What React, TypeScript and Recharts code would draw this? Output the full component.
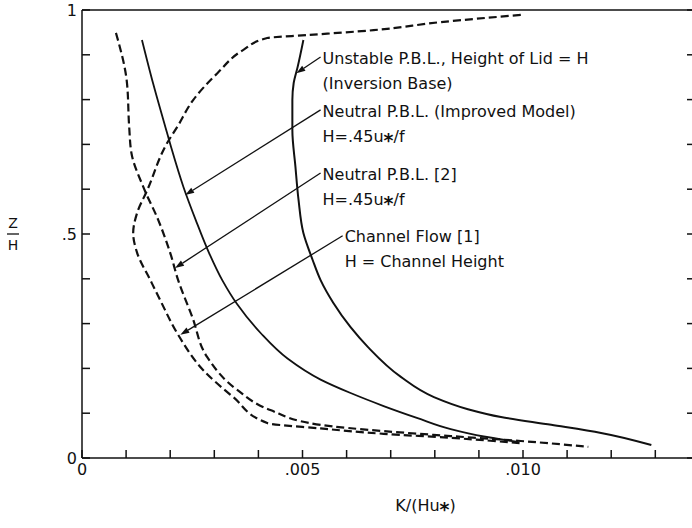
import React from 'react';
import { LineChart, Line, XAxis, YAxis, ReferenceLine } from 'recharts';

// K/(H u*) against z/H
const channelFlow = [
  { k: 0.00995, z: 0.989 }, { k: 0.00814, z: 0.973 }, { k: 0.00661, z: 0.955 },
  { k: 0.00511, z: 0.944 }, { k: 0.0042, z: 0.9375 }, { k: 0.00366, z: 0.911 },
  { k: 0.00307, z: 0.859 }, { k: 0.00252, z: 0.799 }, { k: 0.00216, z: 0.739 },
  { k: 0.00193, z: 0.703 }, { k: 0.00148, z: 0.598 }, { k: 0.00125, z: 0.547 },
  { k: 0.00116, z: 0.502 }, { k: 0.00125, z: 0.458 }, { k: 0.00155, z: 0.397 },
  { k: 0.00177, z: 0.353 }, { k: 0.00218, z: 0.275 }, { k: 0.00275, z: 0.196 },
  { k: 0.00343, z: 0.136 }, { k: 0.0042, z: 0.078 }, { k: 0.00541, z: 0.066 },
  { k: 0.00684, z: 0.054 }, { k: 0.00836, z: 0.045 }, { k: 0.00995, z: 0.033 },
];

const neutralOld = [
  { k: 0.00077, z: 0.949 }, { k: 0.00102, z: 0.837 }, { k: 0.00107, z: 0.739 },
  { k: 0.00112, z: 0.681 }, { k: 0.00139, z: 0.605 }, { k: 0.00173, z: 0.531 },
  { k: 0.002, z: 0.458 }, { k: 0.00218, z: 0.397 }, { k: 0.0025, z: 0.315 },
  { k: 0.00284, z: 0.225 }, { k: 0.00352, z: 0.152 }, { k: 0.00427, z: 0.107 },
  { k: 0.00541, z: 0.074 }, { k: 0.00684, z: 0.06 }, { k: 0.00836, z: 0.049 },
  { k: 0.00995, z: 0.038 }, { k: 0.01148, z: 0.025 },
];

const neutralImproved = [
  { k: 0.00136, z: 0.933 }, { k: 0.00161, z: 0.837 }, { k: 0.00189, z: 0.739 },
  { k: 0.00202, z: 0.694 }, { k: 0.0023, z: 0.605 }, { k: 0.00258, z: 0.531 },
  { k: 0.00288, z: 0.458 }, { k: 0.00318, z: 0.397 }, { k: 0.00352, z: 0.343 },
  { k: 0.00405, z: 0.279 }, { k: 0.00466, z: 0.222 }, { k: 0.00541, z: 0.175 },
  { k: 0.00609, z: 0.145 }, { k: 0.00684, z: 0.116 }, { k: 0.00761, z: 0.089 },
  { k: 0.00836, z: 0.0645 }, { k: 0.00911, z: 0.048 }, { k: 0.00989, z: 0.036 },
];

const unstable = [
  { k: 0.00502, z: 0.933 }, { k: 0.00489, z: 0.873 }, { k: 0.0048, z: 0.837 },
  { k: 0.00477, z: 0.799 }, { k: 0.00477, z: 0.732 }, { k: 0.00484, z: 0.65 },
  { k: 0.00491, z: 0.576 }, { k: 0.00502, z: 0.502 }, { k: 0.00523, z: 0.442 },
  { k: 0.00541, z: 0.397 }, { k: 0.0057, z: 0.346 }, { k: 0.00609, z: 0.292 },
  { k: 0.00648, z: 0.248 }, { k: 0.00723, z: 0.181 }, { k: 0.00798, z: 0.136 },
  { k: 0.00875, z: 0.109 }, { k: 0.0095, z: 0.0915 }, { k: 0.01064, z: 0.074 },
  { k: 0.01177, z: 0.056 }, { k: 0.01291, z: 0.029 },
];

const xTicks = [0, 0.001, 0.002, 0.003, 0.004, 0.005, 0.006, 0.007, 0.008, 0.009, 0.01, 0.011, 0.012, 0.013];
const xTickLabels = ['0', '', '', '', '', '.005', '', '', '', '', '.010', '', '', ''];
const yTicks = [0, 0.1, 0.2, 0.3, 0.4, 0.5, 0.6, 0.7, 0.8, 0.9, 1];
const yTickLabels = ['0', '', '', '', '', '.5', '', '', '', '', '1'];

// leader lines: [text end, arrow tip], with the label lines
const notes = [
  { from: { k: 0.00541, z: 0.895 }, to: { k: 0.00486, z: 0.859 }, lines: ['Unstable P.B.L., Height of Lid = H', '(Inversion Base)'] },
  { from: { k: 0.00541, z: 0.777 }, to: { k: 0.00234, z: 0.587 }, lines: ['Neutral P.B.L. (Improved Model)', 'H=.45u_*/f'] },
  { from: { k: 0.00541, z: 0.636 }, to: { k: 0.00211, z: 0.424 }, lines: ['Neutral P.B.L. [2]', 'H=.45u_*/f'] },
  { from: { k: 0.00591, z: 0.496 }, to: { k: 0.00223, z: 0.275 }, lines: ['Channel Flow [1]', 'H = Channel Height'] },
];

const FONT = '"DejaVu Sans", sans-serif';

const renderText = (s: string) => {
  const parts = s.split('_*');
  if (parts.length === 1) return s;
  return (
    <>
      {parts[0]}
      <tspan dy={5} fontSize={19} fontWeight="bold">*</tspan>
      <tspan dy={-5}>{parts[1]}</tspan>
    </>
  );
};

const makeNote = (lines: string[]) => (props: any) => {
  const { x1, y1, x2, y2 } = props;
  const ang = Math.atan2(y2 - y1, x2 - x1);
  const L = 9, W = 3;
  const bx = x2 - L * Math.cos(ang), by = y2 - L * Math.sin(ang);
  const px = -Math.sin(ang) * W, py = Math.cos(ang) * W;
  return (
    <g>
      <line x1={x1} y1={y1} x2={bx} y2={by} stroke="#111" strokeWidth={1.3} />
      <polygon points={`${x2},${y2} ${bx + px},${by + py} ${bx - px},${by - py}`} fill="#111" />
      {lines.map((t, i) => (
        <text key={i} x={x1 + 2} y={y1 + 1 + i * 25} dy="0.35em" fontSize={16} fontFamily={FONT} fill="#111">
          {renderText(t)}
        </text>
      ))}
    </g>
  );
};

const XTitle = (props: any) => {
  const { viewBox } = props;
  const cx = viewBox.x + viewBox.width / 2 + 37;
  return (
    <text x={cx} y={viewBox.y + 47} dy="0.35em" textAnchor="middle" fontSize={16} fontFamily={FONT} fill="#111">
      K/(Hu<tspan dy={5} fontSize={19} fontWeight="bold">*</tspan><tspan dy={-5}>)</tspan>
    </text>
  );
};

const YTitle = (props: any) => {
  const { viewBox } = props;
  const cy = viewBox.y + viewBox.height / 2;
  return (
    <g fontFamily={FONT} fontSize={14} fill="#111">
      <text x={13} y={cy - 11} dy="0.35em" textAnchor="middle">Z</text>
      <line x1={7} x2={19} y1={cy} y2={cy} stroke="#111" strokeWidth={1.3} />
      <text x={13} y={cy + 11} dy="0.35em" textAnchor="middle">H</text>
    </g>
  );
};

export default function App() {
  const tickStyle = { fontSize: 16, fill: '#111', fontFamily: FONT };
  return (
    <div style={{ position: 'absolute', left: 0, top: 0, width: 692, height: 528, overflow: 'hidden', background: '#fff' }}>
      <LineChart width={700} height={528} margin={{ top: 9, right: 4, bottom: 40, left: 0 }}>
        <XAxis
          dataKey="k"
          type="number"
          domain={[0, 0.0139]}
          allowDataOverflow
          ticks={xTicks}
          interval={0}
          tickFormatter={(v: number, i: number) => xTickLabels[i]}
          tickSize={-8}
          tickMargin={14}
          height={30}
          stroke="#111"
          strokeWidth={1.5}
          tick={tickStyle}
          label={<XTitle />}
        />
        <XAxis
          xAxisId="top"
          orientation="top"
          type="number"
          domain={[0, 0.0139]}
          allowDataOverflow
          ticks={xTicks}
          interval={0}
          tickFormatter={() => ''}
          tickSize={-8}
          height={1}
          stroke="#111"
          strokeWidth={1.5}
        />
        <YAxis
          dataKey="z"
          type="number"
          domain={[0, 1]}
          allowDataOverflow
          ticks={yTicks}
          interval={0}
          tickFormatter={(v: number, i: number) => yTickLabels[i]}
          tickSize={-8}
          tickMargin={13}
          width={82}
          stroke="#111"
          strokeWidth={1.5}
          tick={tickStyle}
          label={<YTitle />}
        />
        <YAxis
          yAxisId="right"
          orientation="right"
          type="number"
          domain={[0, 1]}
          allowDataOverflow
          ticks={yTicks}
          interval={0}
          tickFormatter={() => ''}
          tickSize={-8}
          width={1}
          stroke="#111"
          strokeWidth={1.5}
        />
        <Line data={channelFlow} dataKey="z" type="monotoneY" stroke="#111" strokeWidth={2.2} strokeDasharray="8 4" dot={false} isAnimationActive={false} />
        <Line data={neutralOld} dataKey="z" type="monotoneY" stroke="#111" strokeWidth={2.2} strokeDasharray="8 4" dot={false} isAnimationActive={false} />
        <Line data={neutralImproved} dataKey="z" type="monotoneY" stroke="#111" strokeWidth={1.8} dot={false} isAnimationActive={false} />
        <Line data={unstable} dataKey="z" type="monotoneY" stroke="#111" strokeWidth={2} dot={false} isAnimationActive={false} />
        {notes.map((n, i) => (
          <ReferenceLine
            key={i}
            segment={[{ x: n.from.k, y: n.from.z }, { x: n.to.k, y: n.to.z }]}
            ifOverflow="visible"
            shape={makeNote(n.lines)}
          />
        ))}
      </LineChart>
    </div>
  );
}
